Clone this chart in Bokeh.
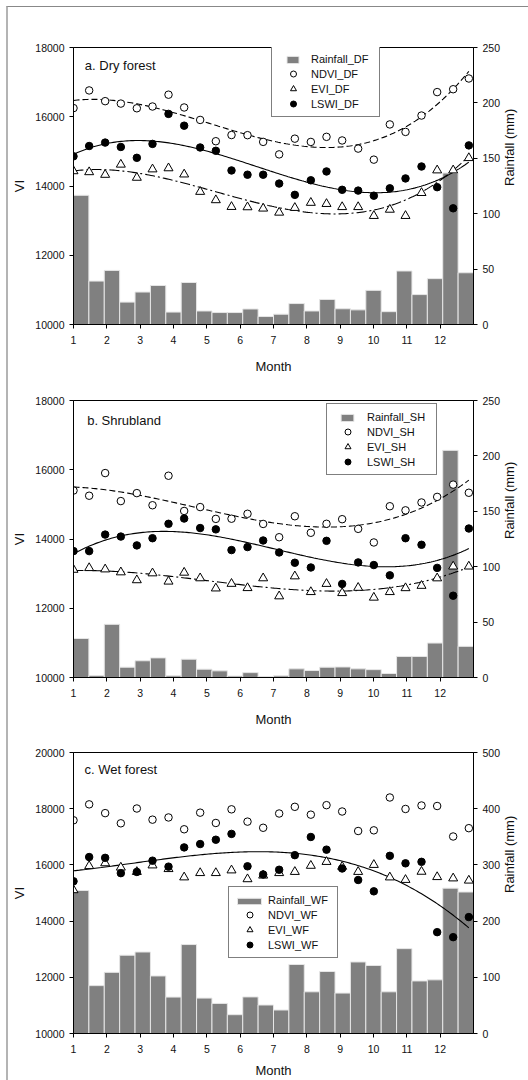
import math
import numpy as np
from bokeh.plotting import figure
from bokeh.models import Range1d, LinearAxis, FixedTicker, Legend, LegendItem, Label
from bokeh.layouts import column
from bokeh.embed import file_html
from bokeh.resources import INLINE

# ---------------- data ----------------
months = [1.00, 1.47, 1.95, 2.42, 2.90, 3.37, 3.85, 4.32, 4.80, 5.27, 5.74, 6.22, 6.69,
          7.17, 7.64, 8.12, 8.59, 9.06, 9.54, 10.01, 10.49, 10.96, 11.44, 11.91, 12.39, 12.86]
month_ticks = [1, 2, 3, 4, 5, 6, 7, 8, 9, 10, 11, 12]

ndvi_df = [16250, 16760, 16450, 16380, 16245, 16296, 16637, 16268, 15908, 15293, 15472, 15468, 15274,
           14913, 15367, 15273, 15420, 15315, 15080, 14761, 15778, 15562, 16035, 16712, 16795, 17105]
evi_df = [14430, 14402, 14326, 14620, 14241, 14483, 14515, 14336, 13834, 13593, 13398, 13389, 13351,
          13233, 13370, 13517, 13484, 13394, 13394, 13138, 13318, 13138, 13801, 14454, 14454, 14809]
lswi_df = [14857, 15155, 15254, 15127, 14814, 15216, 16083, 15742, 15112, 15017, 14449, 14326, 14326,
           14070, 13744, 14165, 14420, 13890, 13867, 13720, 13933, 14218, 14563, 13966, 13356, 15173]
rain_df = [116.6, 39.2, 48.8, 20.2, 29.3, 35.2, 11.2, 37.9, 12.2, 10.8, 10.8, 14.0, 7.2,
           9.3, 18.9, 12.2, 22.6, 14.2, 13.2, 30.8, 11.6, 48.3, 27.0, 41.4, 136.7, 46.7]

ndvi_sh = [15400, 15250, 15904, 15095, 15325, 14975, 15827, 14810, 14922, 14581, 14586, 14728, 14435,
           14051, 14657, 14180, 14439, 14572, 14293, 13900, 14946, 14828, 15055, 15216, 15571, 15335]
evi_sh = [13114, 13163, 13125, 13040, 12812, 13011, 12773, 13030, 12868, 12575, 12708, 12585, 12868,
          12347, 12924, 12470, 12706, 12441, 12593, 12309, 12470, 12583, 12650, 12867, 13208, 13208]
lswi_sh = [13650, 13650, 14127, 14070, 13815, 14023, 14439, 14591, 14316, 14278, 13680, 13767, 13957,
           13612, 13314, 13177, 13947, 12702, 13324, 13248, 12950, 14023, 13833, 13166, 12362, 14303]
rain_sh = [35.2, 1.7, 48.0, 9.3, 15.1, 17.7, 1.5, 16.5, 7.5, 6.0, 1.3, 4.4, 0.8,
           1.5, 7.8, 6.3, 9.3, 9.5, 7.8, 7.1, 3.6, 19.0, 19.0, 31.1, 205.0, 28.1]

ndvi_wf = [17588, 18155, 17842, 17480, 18007, 17610, 17688, 17268, 17859, 17492, 17978, 17540, 17321,
           17829, 18067, 17788, 18126, 17900, 17206, 17230, 18399, 17990, 18114, 18096, 17011, 17307]
evi_wf = [15104, 15961, 16062, 15908, 15752, 15985, 15855, 15559, 15713, 15713, 15808, 15494, 15624,
          15712, 15754, 15972, 16109, 15937, 15754, 16003, 15558, 15469, 15760, 15570, 15523, 15445]
lswi_wf = [15417, 16280, 16251, 15707, 15749, 16150, 15938, 16623, 16742, 16896, 17103, 15950, 15660,
           15827, 16347, 16993, 16543, 15872, 15463, 15059, 16323, 16056, 16109, 13607, 13429, 14143]
rain_wf = [254.5, 85.2, 108.8, 139.3, 145.0, 102.4, 64.8, 158.3, 63.0, 53.5, 33.5, 65.1, 50.7,
           41.8, 122.8, 74.2, 110.3, 71.9, 127.3, 121.0, 74.2, 151.0, 93.5, 95.5, 258.6, 251.8]

FONT = "Liberation Sans"
BAR = "#808080"
TXT = "#111111"


def style_axis(ax, label, label_standoff, tick_standoff):
    ax.axis_label = label
    ax.axis_label_text_font = FONT
    ax.axis_label_text_font_size = "13px"
    ax.axis_label_text_font_style = "normal"
    ax.axis_label_text_color = TXT
    ax.axis_label_standoff = label_standoff
    ax.major_label_text_font = FONT
    ax.major_label_text_font_size = "10.5px"
    ax.major_label_text_color = TXT
    ax.major_label_standoff = tick_standoff
    ax.axis_line_color = "black"
    ax.major_tick_line_color = "black"
    ax.major_tick_out = 4
    ax.major_tick_in = 0
    ax.minor_tick_out = 0
    ax.minor_tick_in = 0


def make_panel(title, title_xy, suffix, ndvi, evi, lswi, rain, vi_max, vi_ticks, rain_max, rain_ticks,
               fits, legend_loc, glyph_w, swatch_w, swatch_h, standoff, label_w,
               height, top_b, bot_b, month_standoff):
    p = figure(width=520, height=height, x_range=Range1d(1, 13), y_range=Range1d(10000, vi_max),
               output_backend="svg", toolbar_location=None, min_border_left=65, min_border_right=55,
               min_border_top=top_b, min_border_bottom=bot_b)
    p.extra_y_ranges = {"rain": Range1d(0, rain_max)}
    p.grid.visible = False
    p.outline_line_color = "black"
    p.outline_line_width = 1
    p.background_fill_color = "white"
    p.border_fill_color = "white"

    p.xaxis.ticker = FixedTicker(ticks=month_ticks)
    p.yaxis.ticker = FixedTicker(ticks=vi_ticks)
    style_axis(p.xaxis[0], "Month", month_standoff, 7)
    style_axis(p.yaxis[0], "VI", 5, 5)
    rax = LinearAxis(y_range_name="rain", ticker=FixedTicker(ticks=rain_ticks))
    style_axis(rax, "Rainfall (mm)", 6, 5)
    try:
        rax.axis_label_orientation = math.pi / 2
    except Exception:
        pass
    p.add_layout(rax, "right")

    bw = 12.0 / len(rain)
    bar_x = [1 + (i + 0.5) * bw for i in range(len(rain))]
    r_bar = p.vbar(x=bar_x, top=rain, bottom=0, width=bw, y_range_name="rain",
                   fill_color=BAR, line_color="#e6e6e6", line_width=1)

    xs = np.linspace(months[0], months[-1], 200)
    styles = {"ndvi": ("6 3", ndvi), "evi": ("10 3 2 3", evi), "lswi": ("solid", lswi)}
    for key in fits:
        dash, vals = styles[key]
        coef = np.polyfit(months, vals, 3)
        p.line(xs, np.polyval(coef, xs), line_color="black", line_width=1.1, line_dash=dash)

    r_ndvi = p.scatter(months, ndvi, marker="circle", size=7.5, fill_color="white", line_color="black", line_width=1)
    r_evi = p.scatter(months, evi, marker="triangle", size=9, fill_color="white", line_color="black", line_width=1)
    r_lswi = p.scatter(months, lswi, marker="circle", size=7.5, fill_color="black", line_color="black", line_width=1)

    # invisible placeholder so the rainfall entry keeps its label in the main legend
    blank = p.line(x=[], y=[], line_alpha=0)

    legend = Legend(items=[LegendItem(label="Rainfall_" + suffix, renderers=[blank]),
                           LegendItem(label="NDVI_" + suffix, renderers=[r_ndvi]),
                           LegendItem(label="EVI_" + suffix, renderers=[r_evi]),
                           LegendItem(label="LSWI_" + suffix, renderers=[r_lswi])],
                    location=legend_loc, glyph_width=glyph_w, glyph_height=15, label_height=15,
                    spacing=0, padding=5, label_standoff=standoff, label_width=label_w, margin=0,
                    border_line_color="black", border_line_width=1, background_fill_color="white",
                    background_fill_alpha=1.0, label_text_font=FONT, label_text_font_size="11px",
                    label_text_color=TXT)
    p.add_layout(legend, "center")

    # small bar swatch for the rainfall entry, drawn from the bar renderer itself
    gw = int(round(swatch_w / 0.8))
    gh = int(round(swatch_h / 0.8))
    cx = legend_loc[0] + 5 + glyph_w / 2.0
    cy = legend_loc[1] + 70 - 5 - 7.5
    swatch = Legend(items=[LegendItem(label=" ", renderers=[r_bar])],
                    location=(cx - gw / 2.0, cy - gh / 2.0), glyph_width=gw, glyph_height=gh,
                    label_height=gh, padding=0, spacing=0, label_standoff=0, label_width=0, margin=0,
                    border_line_alpha=0, background_fill_alpha=0, label_text_font_size="1px")
    p.add_layout(swatch, "center")

    p.add_layout(Label(x=title_xy[0], y=title_xy[1], text=title, text_font=FONT, text_font_size="13px",
                       text_baseline="middle", text_color=TXT))
    return p


pa = make_panel("a. Dry forest", (1.34, 17478), "DF", ndvi_df, evi_df, lswi_df, rain_df,
                18000, [10000, 12000, 14000, 16000, 18000], 250, [0, 50, 100, 150, 200, 250],
                ["ndvi", "evi", "lswi"], (198, 207), 32, 12, 7, 2, 63,
                369, 40, 47, 12)
pb = make_panel("b. Shrubland", (1.41, 17432), "SH", ndvi_sh, evi_sh, lswi_sh, rain_sh,
                18000, [10000, 12000, 14000, 16000, 18000], 250, [0, 50, 100, 150, 200, 250],
                ["ndvi", "evi", "lswi"], (253, 202), 31, 12.5, 7, 4, 64,
                353, 24, 47, 12)
pc = make_panel("c. Wet forest", (1.33, 19397), "WF", ndvi_wf, evi_wf, lswi_wf, rain_wf,
                20000, [10000, 12000, 14000, 16000, 18000, 20000], 500, [0, 100, 200, 300, 400, 500],
                ["lswi"], (155, 75), 31, 24, 6, 3, 64,
                351, 23, 46, 7)

inner = column(pa, pb, pc, spacing=0,
               styles={"border-left": "2px solid #b4b4b4", "border-top": "1px solid #888888"})
layout = column(inner, spacing=0, styles={"padding-left": "6px", "padding-top": "6px"})

open("out.html", "w").write(file_html(layout, INLINE))
